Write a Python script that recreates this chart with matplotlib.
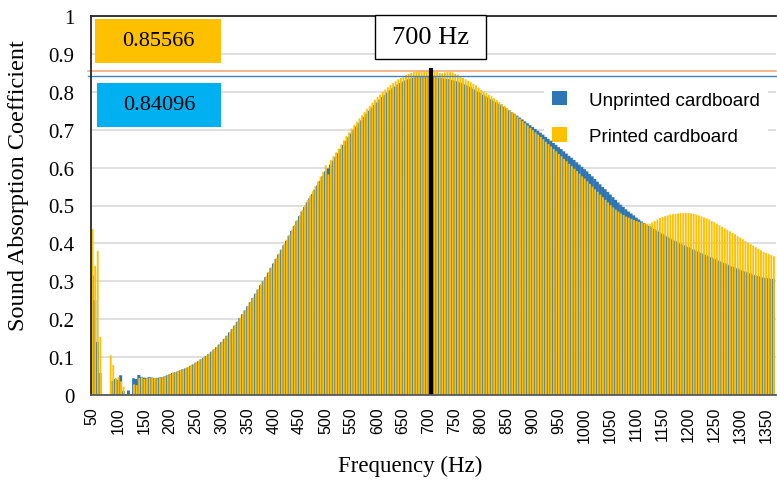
import matplotlib
matplotlib.use("Agg")
import matplotlib.pyplot as plt
from matplotlib.patches import Rectangle, Patch

# ---------------- data ----------------
freqs = list(range(50, 1370, 5))   # Hz, categories

unprinted = [
    0.315, 0.250, 0.140, 0.058, 0, 0, 0, 0, 0.037, 0.042,
    0.040, 0.052, 0.010, 0, 0.012, 0, 0.044, 0.042, 0.053, 0.048,
    0.046, 0.045, 0.047, 0.046, 0.045, 0.045, 0.046, 0.047, 0.049, 0.052,
    0.055, 0.058, 0.060, 0.062, 0.065, 0.068, 0.070, 0.073, 0.077, 0.081,
    0.085, 0.089, 0.094, 0.098, 0.103, 0.108, 0.114, 0.120, 0.126, 0.133,
    0.140, 0.148, 0.156, 0.165, 0.174, 0.183, 0.193, 0.203, 0.213, 0.223,
    0.234, 0.245, 0.256, 0.267, 0.278, 0.290, 0.300, 0.311, 0.323, 0.335,
    0.347, 0.359, 0.371, 0.383, 0.395, 0.407, 0.420, 0.433, 0.446, 0.459,
    0.472, 0.484, 0.496, 0.508, 0.519, 0.530, 0.542, 0.553, 0.565, 0.577,
    0.590, 0.598, 0.608, 0.618, 0.628, 0.638, 0.649, 0.660, 0.670, 0.680,
    0.690, 0.699, 0.708, 0.717, 0.725, 0.734, 0.742, 0.750, 0.758, 0.765,
    0.772, 0.779, 0.786, 0.792, 0.798, 0.804, 0.809, 0.814, 0.819, 0.823,
    0.827, 0.830, 0.833, 0.835, 0.837, 0.839, 0.840, 0.841, 0.841, 0.841,
    0.840, 0.840, 0.839, 0.838, 0.837, 0.836, 0.835, 0.834, 0.833, 0.831,
    0.829, 0.827, 0.825, 0.822, 0.819, 0.816, 0.812, 0.808, 0.804, 0.800,
    0.796, 0.792, 0.788, 0.784, 0.780, 0.776, 0.772, 0.768, 0.764, 0.760,
    0.755, 0.751, 0.746, 0.742, 0.737, 0.732, 0.727, 0.722, 0.717, 0.712,
    0.707, 0.702, 0.697, 0.692, 0.687, 0.681, 0.676, 0.671, 0.665, 0.660,
    0.654, 0.649, 0.643, 0.637, 0.631, 0.626, 0.620, 0.614, 0.608, 0.602,
    0.596, 0.590, 0.583, 0.577, 0.570, 0.563, 0.556, 0.549, 0.543, 0.536,
    0.529, 0.522, 0.515, 0.508, 0.502, 0.496, 0.490, 0.484, 0.479, 0.474,
    0.468, 0.463, 0.458, 0.454, 0.450, 0.446, 0.442, 0.438, 0.434, 0.430,
    0.426, 0.422, 0.418, 0.414, 0.410, 0.407, 0.403, 0.400, 0.397, 0.394,
    0.391, 0.388, 0.384, 0.381, 0.378, 0.375, 0.372, 0.369, 0.366, 0.363,
    0.360, 0.357, 0.354, 0.351, 0.348, 0.345, 0.342, 0.339, 0.337, 0.334,
    0.331, 0.328, 0.326, 0.323, 0.321, 0.318, 0.316, 0.314, 0.312, 0.310,
    0.309, 0.308, 0.307, 0.306,
]

printed = [
    0.438, 0.341, 0.380, 0.153, 0, 0, 0, 0.105, 0.079, 0.045,
    0.047, 0.036, 0.022, 0, 0, 0, 0.028, 0.026, 0.045, 0.047,
    0.043, 0.044, 0.045, 0.046, 0.045, 0.044, 0.045, 0.047, 0.049, 0.052,
    0.055, 0.059, 0.061, 0.062, 0.065, 0.068, 0.071, 0.074, 0.078, 0.082,
    0.086, 0.090, 0.095, 0.099, 0.104, 0.109, 0.115, 0.121, 0.127, 0.134,
    0.141, 0.149, 0.157, 0.166, 0.175, 0.184, 0.194, 0.204, 0.214, 0.224,
    0.235, 0.246, 0.257, 0.268, 0.280, 0.292, 0.302, 0.313, 0.325, 0.337,
    0.349, 0.361, 0.373, 0.385, 0.398, 0.410, 0.423, 0.436, 0.449, 0.462,
    0.475, 0.488, 0.501, 0.514, 0.526, 0.538, 0.551, 0.563, 0.576, 0.588,
    0.606, 0.582, 0.620, 0.630, 0.640, 0.650, 0.661, 0.672, 0.683, 0.693,
    0.703, 0.712, 0.721, 0.730, 0.738, 0.747, 0.755, 0.763, 0.771, 0.779,
    0.786, 0.793, 0.800, 0.806, 0.812, 0.818, 0.823, 0.828, 0.833, 0.837,
    0.841, 0.844, 0.847, 0.850, 0.852, 0.854, 0.855, 0.856, 0.856, 0.856,
    0.856, 0.855, 0.854, 0.853, 0.850, 0.849, 0.851, 0.852, 0.852, 0.851,
    0.848, 0.845, 0.841, 0.837, 0.833, 0.829, 0.825, 0.821, 0.817, 0.811,
    0.805, 0.801, 0.797, 0.792, 0.788, 0.783, 0.778, 0.773, 0.768, 0.763,
    0.757, 0.752, 0.746, 0.741, 0.735, 0.729, 0.723, 0.717, 0.711, 0.705,
    0.699, 0.693, 0.687, 0.681, 0.675, 0.668, 0.662, 0.656, 0.649, 0.643,
    0.636, 0.630, 0.623, 0.617, 0.610, 0.604, 0.597, 0.591, 0.584, 0.577,
    0.571, 0.564, 0.557, 0.550, 0.543, 0.536, 0.529, 0.522, 0.515, 0.508,
    0.501, 0.495, 0.489, 0.484, 0.479, 0.475, 0.471, 0.468, 0.465, 0.462,
    0.459, 0.457, 0.455, 0.453, 0.452, 0.452, 0.455, 0.459, 0.463, 0.467,
    0.470, 0.472, 0.474, 0.476, 0.477, 0.478, 0.479, 0.480, 0.480, 0.480,
    0.480, 0.479, 0.478, 0.476, 0.474, 0.471, 0.469, 0.466, 0.463, 0.459,
    0.456, 0.452, 0.448, 0.444, 0.440, 0.436, 0.432, 0.428, 0.424, 0.419,
    0.415, 0.411, 0.406, 0.402, 0.398, 0.394, 0.390, 0.386, 0.382, 0.378,
    0.375, 0.372, 0.369, 0.366,
]

y_ticks = [0, 0.1, 0.2, 0.3, 0.4, 0.5, 0.6, 0.7, 0.8, 0.9, 1.0]
y_tick_labels = ["0", "0.1", "0.2", "0.3", "0.4", "0.5", "0.6", "0.7", "0.8", "0.9", "1"]
series_names = ["Unprinted cardboard", "Printed cardboard"]
peak_printed = 0.85566
peak_unprinted = 0.84096
marker_freq = 700

# ---------------- figure ----------------
W, H = 777, 481
fig = plt.figure(figsize=(W / 100, H / 100), dpi=100)
ax = fig.add_axes([91 / W, 1 - 396 / H, 685 / W, 379 / H])

BLUE = "#2E75B6"
YELLOW = "#FFC000"
SERIF = ["Liberation Serif", "DejaVu Serif"]
SANS = ["Liberation Sans", "DejaVu Sans"]

n = len(freqs)
assert len(unprinted) == n and len(printed) == n
pos = list(range(n))
ax.bar([p - 0.05 for p in pos], unprinted, width=1.15, color=BLUE, linewidth=0,
       zorder=4, snap=False)
ax.bar([p + 0.1 for p in pos], printed, width=0.72, color=YELLOW, linewidth=0,
       zorder=5, snap=False)

ax.set_xlim(-0.5, n - 0.1)
ax.set_ylim(0, 1)

# y axis
ax.set_yticks(y_ticks)
ax.set_yticklabels(y_tick_labels, fontfamily=SERIF, fontsize=15)
ax.yaxis.grid(True, color="#D9D9D9", linewidth=1.2, zorder=0)
ax.set_axisbelow(True)

# x axis: label every 50 Hz
tick_pos = [i for i, f in enumerate(freqs) if f % 50 == 0]
tick_lab = [str(freqs[i]) for i in tick_pos]
ax.set_xticks(tick_pos)
ax.set_xticklabels(tick_lab, rotation=90, fontfamily=SANS, fontsize=11.5)
ax.tick_params(axis="both", length=0)
ax.tick_params(axis="x", pad=8)
ax.tick_params(axis="y", pad=12)

ax.spines["right"].set_visible(False)
ax.spines["left"].set_color("#262626")
ax.spines["top"].set_color("#262626")
ax.spines["bottom"].set_color("#595959")
for s in ["left", "top", "bottom"]:
    ax.spines[s].set_linewidth(1.3)
    ax.spines[s].set_zorder(8)

fig.text(410 / W, 1 - 466 / H, "Frequency (Hz)", ha="center", va="center",
         fontfamily=SERIF, fontsize=16.5)
fig.text(19 / W, 1 - 186 / H, "Sound Absorption Coefficient", ha="center", va="center",
         rotation=90, fontfamily=SERIF, fontsize=17.5)

# peak lines
ax.axhline(peak_printed, xmin=-0.004, xmax=1, color="#F4A26B", linewidth=1.1,
           clip_on=False, zorder=6)
ax.axhline(peak_unprinted, xmin=-0.004, xmax=1, color="#3C82C4", linewidth=1.0,
           clip_on=False, zorder=6)

# vertical marker line at 700 Hz
mi = freqs.index(marker_freq)
ax.vlines(mi + 0.7, 0, 0.862, color="black", linewidth=3, zorder=7)

# legend (inside axes, below the bars so bars stay visible)
handles = [Patch(facecolor=BLUE, edgecolor="none"), Patch(facecolor=YELLOW, edgecolor="none")]
leg = ax.legend(handles, series_names, loc="upper left",
                bbox_to_anchor=(535 / W, 1 - 75 / H), bbox_transform=fig.transFigure,
                frameon=True, prop={"family": SANS, "size": 13.5},
                handlelength=0.8, handleheight=0.8,
                handletextpad=1.2, labelspacing=1.0, borderpad=0.4)
leg.get_frame().set_facecolor("white")
leg.get_frame().set_edgecolor("none")
leg.get_frame().set_alpha(1)
leg.set_zorder(3)


def fig_box(x0, y0, x1, y1, fc, text, fontsize):
    r = Rectangle((x0 / W, 1 - y1 / H), (x1 - x0) / W, (y1 - y0) / H,
                  transform=fig.transFigure, facecolor=fc,
                  edgecolor="black" if fc == "white" else "none",
                  linewidth=1.0, zorder=20)
    fig.patches.append(r)
    fig.text((x0 + x1) / 2 / W, 1 - (y0 + y1) / 2 / H, text, ha="center", va="center",
             fontfamily=SERIF, fontsize=fontsize, color="black", zorder=21)


fig_box(95, 20, 221, 64, YELLOW, "0.85566", 16)
fig_box(97, 84, 221, 128, "#00B0F0", "0.84096", 16)
fig_box(375, 16, 486, 60, "white", "700 Hz", 19)

fig.savefig("out.png", dpi=100)
